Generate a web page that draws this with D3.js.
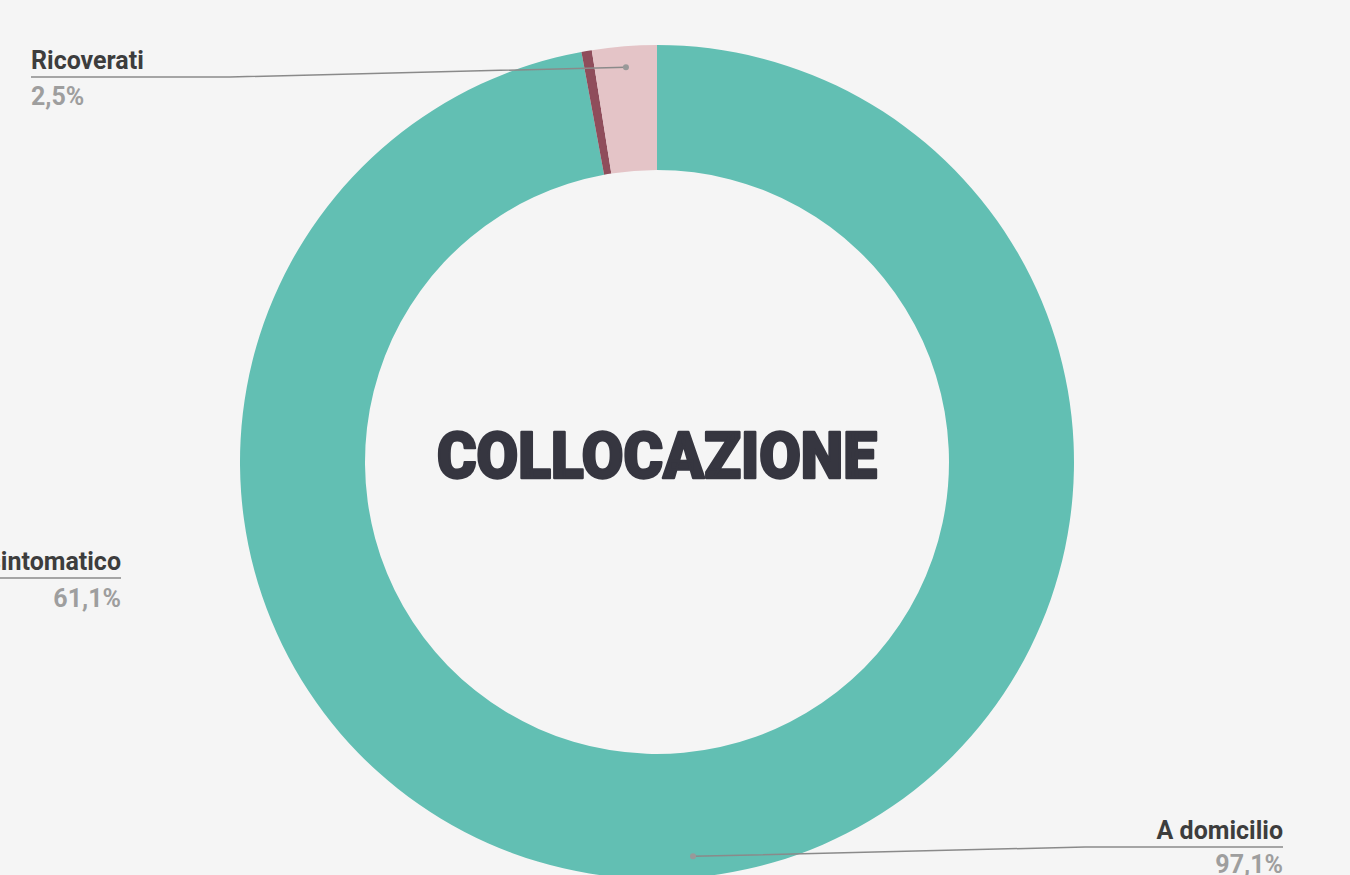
<!DOCTYPE html>
<html><head><meta charset="utf-8">
<script src="https://cdn.jsdelivr.net/npm/d3@7"></script>
<style>html,body{margin:0;padding:0;background:#f5f5f5;overflow:hidden}</style>
</head><body><svg id="c" width="1350" height="875"></svg>
<script>
const categories = ["A domicilio", "Terapia intensiva", "Ricoverati"];
const values = [97.1, 0.4, 2.5];
const colors = ["#62bfb3", "#8f4d5b", "#e4c4c7"];
const labelTexts = ["97,1%", "", "2,5%"];
const extraLabel = {name: "Asintomatico", value: "61,1%"};

const svg = d3.select("#c");
svg.append("rect").attr("width",1350).attr("height",875).attr("fill","#f5f5f5");
const cx = 657, cy = 462, R = 417, r = 292;
const g = svg.append("g").attr("transform",`translate(${cx},${cy})`);
const pie = d3.pie().sort(null).value(d=>d)(values);
const arc = d3.arc().innerRadius(r).outerRadius(R);
g.selectAll("path.s").data(pie).join("path").attr("class","s")
  .attr("d",arc).attr("fill",(d,i)=>colors[i]);

g.append("text").attr("x",0).attr("y",-7).attr("dy","0.36em")
  .attr("text-anchor","middle")
  .attr("font-family","Roboto").attr("font-weight",900).attr("font-size",64)
  .attr("textLength",440).attr("lengthAdjust","spacingAndGlyphs")
  .attr("fill","#363640").attr("stroke","#363640").attr("stroke-width",2.5)
  .attr("stroke-linejoin","round").text("COLLOCAZIONE");

// labels with leader lines
const dotArc = d3.arc().innerRadius(396).outerRadius(396);
const layout = {
  0: {elbow:[1085,847], end:1283, anchor:"end", pOff:26},
  2: {elbow:[230,77], end:31, anchor:"start", pOff:28}
};
const FS = 25;
const lab = svg.append("g");
Object.keys(layout).forEach(k=>{
  const i = +k, L = layout[k];
  const c = dotArc.centroid(pie[i]);
  const px = cx + c[0], py = cy + c[1];
  lab.append("polyline")
    .attr("points",`${px},${py} ${L.elbow[0]},${L.elbow[1]} ${L.end},${L.elbow[1]}`)
    .attr("fill","none").attr("stroke","#8a8a8a").attr("stroke-width",1.5);
  lab.append("circle").attr("cx",px).attr("cy",py).attr("r",3).attr("fill","#999");
  lab.append("text").attr("x",L.end).attr("y",L.elbow[1]-8)
    .attr("text-anchor",L.anchor).attr("font-family","Roboto").attr("font-weight",700)
    .attr("font-size",FS).attr("fill","#3d3d3d").text(categories[i]);
  lab.append("text").attr("x",L.end).attr("y",L.elbow[1]+L.pOff)
    .attr("text-anchor",L.anchor).attr("font-family","Roboto").attr("font-weight",700)
    .attr("font-size",FS).attr("fill","#9e9e9e").text(labelTexts[i]);
});
// cut-off label on the left
lab.append("line").attr("x1",-50).attr("x2",121).attr("y1",578).attr("y2",578)
  .attr("stroke","#8a8a8a").attr("stroke-width",1.5);
lab.append("text").attr("x",121).attr("y",570).attr("text-anchor","end")
  .attr("font-family","Roboto").attr("font-weight",700).attr("font-size",FS)
  .attr("fill","#3d3d3d").text(extraLabel.name);
lab.append("text").attr("x",121).attr("y",607).attr("text-anchor","end")
  .attr("font-family","Roboto").attr("font-weight",700).attr("font-size",FS)
  .attr("fill","#9e9e9e").text(extraLabel.value);
</script></body></html>
